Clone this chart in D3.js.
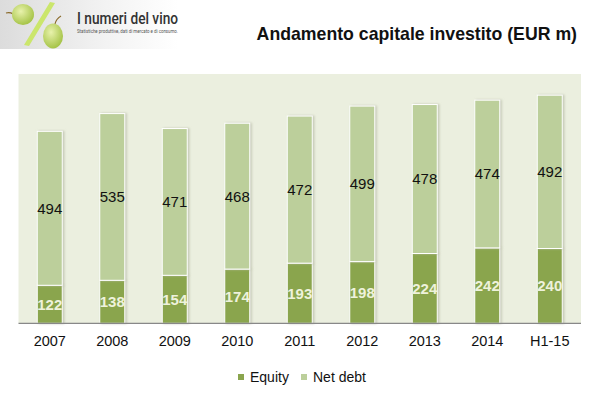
<!DOCTYPE html>
<html><head><meta charset="utf-8">
<script src="https://cdn.jsdelivr.net/npm/d3@7"></script>
<style>body{margin:0;background:#fff;} svg{display:block;}</style>
</head><body>
<script>
const categories = ["2007","2008","2009","2010","2011","2012","2013","2014","H1-15"];
const equity = [122,138,154,174,193,198,224,242,240];
const netDebt = [494,535,471,468,472,499,478,474,492];
const seriesNames = ["Equity","Net debt"];
const colors = ["#8aa54e","#bccf9b"];

const W=599,H=398;
const svg=d3.select("body").append("svg").attr("width",W).attr("height",H);
const defs=svg.append("defs");
const lg=defs.append("linearGradient").attr("id","logoBg").attr("x1",0).attr("y1",0).attr("x2",1).attr("y2",0);
lg.append("stop").attr("offset","0%").attr("stop-color","#dcdcdc");
lg.append("stop").attr("offset","60%").attr("stop-color","#f3f3f3");
lg.append("stop").attr("offset","100%").attr("stop-color","#ffffff");
const gg=defs.append("radialGradient").attr("id","grape").attr("cx","40%").attr("cy","35%").attr("r","65%");
gg.append("stop").attr("offset","0%").attr("stop-color","#e8f2ac");
gg.append("stop").attr("offset","100%").attr("stop-color","#a6c448");
const sh=defs.append("filter").attr("id","shadow").attr("x","-20%").attr("y","-5%").attr("width","150%").attr("height","115%");
sh.append("feDropShadow").attr("dx",1.5).attr("dy",0).attr("stdDeviation",1).attr("flood-color","#b8bca8").attr("flood-opacity",0.8);

// logo
svg.append("rect").attr("x",0).attr("y",0).attr("width",178).attr("height",49).attr("fill","url(#logoBg)");
svg.append("path").attr("d","M6,13 Q10,12 13,14").attr("stroke","#8a6a2a").attr("stroke-width",1.2).attr("fill","none");
svg.append("ellipse").attr("cx",23).attr("cy",14.5).attr("rx",11).attr("ry",10.5).attr("fill","url(#grape)");
svg.append("path").attr("d","M50,2 L55,3 L29,46 L24,45 Z").attr("fill","#cbe66c");
svg.append("path").attr("d","M55,24 Q56,19 61,16").attr("stroke","#8a6a2a").attr("stroke-width",1.2).attr("fill","none");
svg.append("ellipse").attr("cx",53).attr("cy",36).attr("rx",10).attr("ry",12.5).attr("fill","url(#grape)");
svg.append("text").attr("x",77).attr("y",24).attr("font-family","Roboto, 'Liberation Sans', sans-serif").attr("font-weight",500).attr("font-size",17).attr("fill","#333")
  .attr("textLength",101).attr("lengthAdjust","spacingAndGlyphs").text("I numeri del vino");
svg.append("text").attr("x",77).attr("y",32.5).attr("font-family","Roboto, 'Liberation Sans', sans-serif").attr("font-size",4.6).attr("fill","#555")
  .attr("textLength",101).attr("lengthAdjust","spacingAndGlyphs").text("Statistiche produttive, dati di mercato e di consumo.");

// title
svg.append("text").attr("x",577).attr("y",40).attr("text-anchor","end").attr("font-family","'Liberation Sans', Arial, sans-serif").attr("font-weight","bold").attr("font-size",17.7).attr("fill","#111").text("Andamento capitale investito (EUR m)");

const x0=18.5,x1=581,yBase=323.3,yTop=74;
svg.append("rect").attr("x",x0).attr("y",yTop).attr("width",x1-x0).attr("height",yBase-yTop).attr("fill","#ebefdf");

const x=d3.scaleBand().domain(categories).range([x0,x1]).paddingInner(0.6).paddingOuter(0.3);
const y=d3.scaleLinear().domain([0,800]).range([yBase,yTop]);

const data=categories.map((c,i)=>({c,e:equity[i],n:netDebt[i]}));
const stack=d3.stack().keys(["e","n"])(data);

const g=svg.append("g");
stack.forEach((layer,li)=>{
  g.selectAll(null).data(layer).enter().append("rect")
    .attr("x",d=>x(d.data.c)).attr("width",x.bandwidth())
    .attr("y",d=>y(d[1])).attr("height",d=>y(d[0])-y(d[1]))
    .attr("fill",colors[li]).attr("stroke","#ffffff").attr("stroke-width",1)
    .attr("filter","url(#shadow)");
});
// labels
stack.forEach((layer,li)=>{
  g.selectAll(null).data(layer).enter().append("text")
    .attr("x",d=>x(d.data.c)+x.bandwidth()/2)
    .attr("y",d=>(y(d[0])+y(d[1]))/2)
    .attr("dy","0.36em").attr("text-anchor","middle")
    .attr("font-family","'Liberation Sans', Arial, sans-serif")
    .attr("font-size",15)
    .attr("font-weight",li===0?"bold":"normal")
    .attr("fill",li===0?"#eef2dc":"#111")
    .text(d=>li===0?d.data.e:d.data.n);
});

// axis
const ax=svg.append("g").attr("transform",`translate(0,${yBase})`).call(d3.axisBottom(x).tickSize(0).tickPadding(12));
ax.select(".domain").attr("stroke","#888").attr("stroke-width",1.2).attr("d",`M${x0},0H${x1}`);
ax.selectAll("text").attr("font-family","'Liberation Sans', Arial, sans-serif").attr("font-size",14.5).attr("fill","#111");

// legend
const leg=svg.append("g").attr("font-family","'Liberation Sans', Arial, sans-serif").attr("font-size",14).attr("fill","#111");
const legItems=[{n:seriesNames[0],x:238},{n:seriesNames[1],x:301}];
legItems.forEach((it,i)=>{
  leg.append("rect").attr("x",it.x).attr("y",374).attr("width",6).attr("height",6).attr("fill",colors[i]);
  leg.append("text").attr("x",it.x+12).attr("y",382).text(it.n);
});
</script>
</body></html>
